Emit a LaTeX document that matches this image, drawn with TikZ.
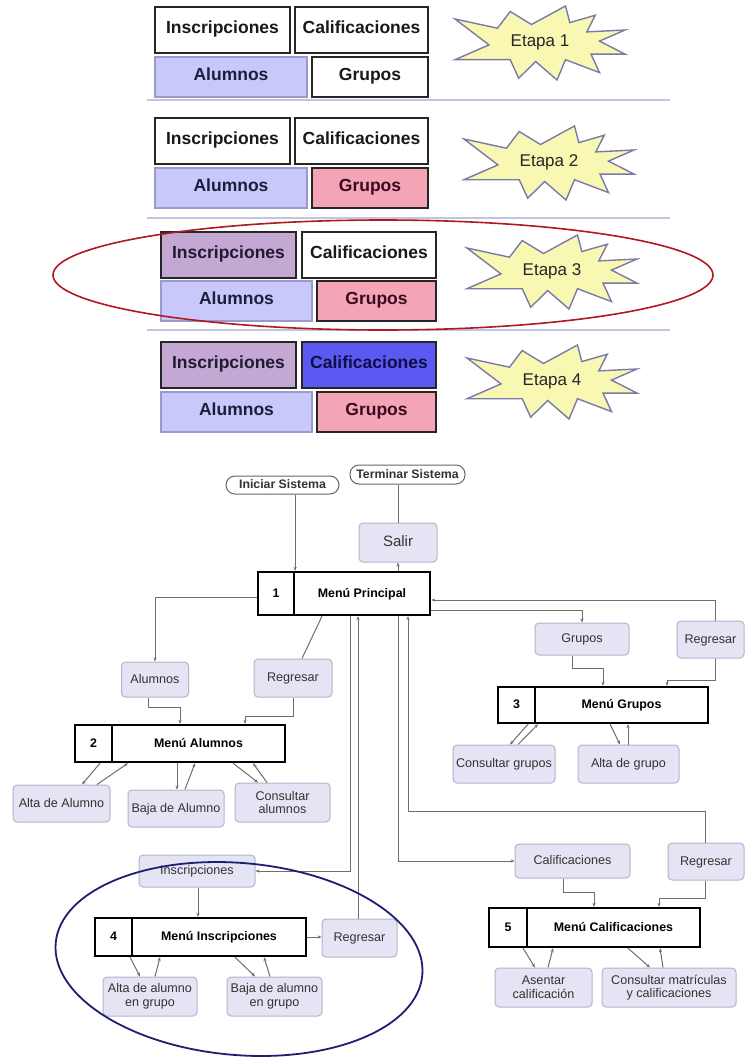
\documentclass[tikz,border=0pt]{standalone}
\usepackage{fontspec}
\setmainfont{Liberation Sans}
\usetikzlibrary{arrows.meta}
\definecolor{lav}{HTML}{C8C8FA}
\definecolor{lavborder}{HTML}{9A9ACC}
\definecolor{pinkf}{HTML}{F5A4B6}
\definecolor{purf}{HTML}{C2A8D2}
\definecolor{bluef}{HTML}{5A5AF2}
\definecolor{boxf}{HTML}{E4E4F4}
\definecolor{boxd}{HTML}{B4B4CC}
\definecolor{sepc}{HTML}{C4C4DE}
\definecolor{starf}{HTML}{F8F8B2}
\definecolor{stard}{HTML}{7A7AAA}
\definecolor{lnc}{HTML}{6E6E6E}
\definecolor{redel}{HTML}{B01822}
\definecolor{blueel}{HTML}{1E1E72}
\newcommand\etstar[1]{\draw[starsty,shift={(#1)}] (-85,-24) -- (-42.5,-14.8) -- (-29.8,-31.5) -- (-8.5,-18.5) -- (25.5,-37) -- (29.8,-20.4) -- (55.3,-27.8) -- (46.8,-11.1) -- (85,-13) -- (59.5,-1.9) -- (85,11.1) -- (51,11.1) -- (59.5,29.6) -- (25.5,16.7) -- (17,37) -- (-4.3,18.5) -- (-21.3,35.2) -- (-29.8,16.7) -- (-85,16.7) -- (-51,1.9) -- cycle;}
\begin{document}
\begin{tikzpicture}[x=1pt,y=-1pt,
  tbw/.style={draw=black!85, line width=2pt, fill=white, inner sep=0pt, text=black!90, text height=0.72em, text depth=0pt, font=\fontsize{17.5}{20}\selectfont\bfseries},
  alu/.style={tbw, draw=lavborder, line width=1.2pt, fill=lav, text={rgb,255:red,30;green,30;blue,60}},
  pnk/.style={tbw, fill=pinkf, text={rgb,255:red,60;green,10;blue,30}},
  pur/.style={tbw, fill=purf, text={rgb,255:red,35;green,25;blue,50}},
  blu/.style={tbw, fill=bluef, text={rgb,255:red,15;green,15;blue,70}},
  sep/.style={draw=sepc, line width=1.3pt},
  starsty/.style={fill=starf, draw=stard, line width=1.4pt, line join=miter},
  startext/.style={inner sep=0pt, text height=0.72em, text depth=0pt, font=\fontsize{17}{19}\selectfont, text=black!85},
  lbox/.style={draw=boxd, fill=boxf, rounded corners=4pt, line width=1pt, inner sep=0pt, align=center, text=black!80, font=\fontsize{12.6}{13.6}\selectfont},
  one/.style={text height=0.72em, text depth=0pt},
  mbox/.style={draw=black, line width=2.4pt, fill=white, inner sep=0pt, text height=0.72em, text depth=0pt, font=\fontsize{12.4}{14}\selectfont\bfseries},
  pill/.style={draw=black!60, line width=1pt, rounded corners=9pt, fill=white, inner sep=0pt, text=black!80, text height=0.72em, text depth=0pt, font=\fontsize{12.3}{14}\selectfont\bfseries},
  con/.style={draw=lnc, line width=1pt},
  arr/.style={con, -{Stealth[length=4pt,width=3.2pt]}}]
\fill[white] (0,0) rectangle (744,1057);
\useasboundingbox (0,0) rectangle (744,1057);
% ---------- stages ----------
\node[tbw, minimum width=135, minimum height=46] (s1i) at (222.5,30) {Inscripciones};
\node[tbw, minimum width=133, minimum height=46] (s1c) at (361.5,30) {Calificaciones};
\node[alu, minimum width=152, minimum height=40] (s1a) at (231,77) {Alumnos};
\node[tbw, minimum width=116, minimum height=40] (s1g) at (370,77) {Grupos};
\node[tbw, minimum width=135, minimum height=46] (s2i) at (222.5,141) {Inscripciones};
\node[tbw, minimum width=133, minimum height=46] (s2c) at (361.5,141) {Calificaciones};
\node[alu, minimum width=152, minimum height=40] (s2a) at (231,188) {Alumnos};
\node[pnk, minimum width=116, minimum height=40] (s2g) at (370,188) {Grupos};
\node[pur, minimum width=135, minimum height=46] (s3i) at (228.5,254.5) {Inscripciones};
\node[tbw, minimum width=134, minimum height=46] (s3c) at (369,254.5) {Calificaciones};
\node[alu, minimum width=151, minimum height=40] (s3a) at (236.5,301) {Alumnos};
\node[pnk, minimum width=119, minimum height=40] (s3g) at (376.5,301) {Grupos};
\node[pur, minimum width=135, minimum height=46] (s4i) at (228.5,364.5) {Inscripciones};
\node[blu, minimum width=134, minimum height=46] (s4c) at (369,364.5) {Calificaciones};
\node[alu, minimum width=151, minimum height=40] (s4a) at (236.5,412) {Alumnos};
\node[pnk, minimum width=119, minimum height=40] (s4g) at (376.5,412) {Grupos};
\draw[sep] (147,100) -- (670,100);
\draw[sep] (147,218) -- (670,218);
\draw[sep] (147,330) -- (670,330);
\etstar{540,43}
\node[startext] (e1) at (540,43) {Etapa 1};
\etstar{549,163}
\node[startext] (e2) at (549,163) {Etapa 2};
\etstar{552,272}
\node[startext] (e3) at (552,272) {Etapa 3};
\etstar{552,382}
\node[startext] (e4) at (552,382) {Etapa 4};
% ---------- flow ----------
\node[pill, minimum width=113, minimum height=18] (ini) at (282.5,485) {Iniciar Sistema};
\node[pill, minimum width=115, minimum height=19] (ter) at (407.5,474.5) {Terminar Sistema};
\node[lbox, one, minimum width=78, minimum height=39, font=\fontsize{15}{17}\selectfont] (salir) at (398,542.5) {Salir};
\node[mbox, minimum width=36, minimum height=43] (m1n) at (276,593.5) {1};
\node[mbox, minimum width=136, minimum height=43] (m1) at (362,593.5) {Menú Principal};
\node[lbox, one, minimum width=67, minimum height=35] (alu) at (155,679.5) {Alumnos};
\node[lbox, one, minimum width=78, minimum height=38] (reg1) at (293,678) {Regresar};
\node[mbox, minimum width=37, minimum height=37] (m2n) at (93.5,743.5) {2};
\node[mbox, minimum width=173, minimum height=37] (m2) at (198.5,743.5) {Menú Alumnos};
\node[lbox, one, minimum width=97, minimum height=37] (alta1) at (61.5,803.5) {Alta de Alumno};
\node[lbox, one, minimum width=96, minimum height=37] (baja1) at (176,808.5) {Baja de Alumno};
\node[lbox, minimum width=95, minimum height=39] (cons1) at (282.5,802.5) {Consultar\\alumnos};
\node[lbox, one, minimum width=94, minimum height=32] (grp) at (582,639) {Grupos};
\node[lbox, one, minimum width=67, minimum height=37] (reg2) at (710.5,639.5) {Regresar};
\node[mbox, minimum width=37, minimum height=36] (m3n) at (516.5,705) {3};
\node[mbox, minimum width=173, minimum height=36] (m3) at (621.5,705) {Menú Grupos};
\node[lbox, one, minimum width=102, minimum height=38] (consg) at (504,764) {Consultar grupos};
\node[lbox, one, minimum width=101, minimum height=38] (altag) at (628.5,764) {Alta de grupo};
\node[lbox, one, minimum width=116, minimum height=32] (ins) at (197,871) {Inscripciones};
\node[mbox, minimum width=37, minimum height=38] (m4n) at (113.5,937) {4};
\node[mbox, minimum width=174, minimum height=38] (m4) at (219,937) {Menú Inscripciones};
\node[lbox, one, minimum width=75, minimum height=38] (reg3) at (359.5,938) {Regresar};
\node[lbox, minimum width=94, minimum height=39] (altai) at (150,996.5) {Alta de alumno\\en grupo};
\node[lbox, minimum width=95, minimum height=39] (bajai) at (274.5,996.5) {Baja de alumno\\en grupo};
\node[lbox, one, minimum width=115, minimum height=34] (cal) at (572.5,861) {Calificaciones};
\node[lbox, one, minimum width=76, minimum height=37] (reg4) at (706,861.5) {Regresar};
\node[mbox, minimum width=38, minimum height=39] (m5n) at (508,927.5) {5};
\node[mbox, minimum width=173, minimum height=39] (m5) at (613.5,927.5) {Menú Calificaciones};
\node[lbox, minimum width=97, minimum height=39] (asen) at (543.5,987.5) {Asentar\\calificación};
\node[lbox, minimum width=134, minimum height=39] (consm) at (669,987.5) {Consultar matrículas\\y calificaciones};
% connectors
\draw[arr] (ini.south -| m1n.east) -- (m1n.east |- m1.north);
\draw[con] (ter.south -| salir.north) -- (salir.north);
\draw[arr] (m1.north -| salir.south) -- (salir.south);
\draw[arr] ([yshift=-3.5pt]m1n.west) -| (alu.north);
\draw[con] ([xshift=9pt]reg1.north) -- ([xshift=-40pt]m1.south);
\draw[arr] ([xshift=-7pt]alu.south) -- ++(0,10) -| ([xshift=-18.5pt]m2.north);
\draw[arr] (reg1.south) -- ++(0,19) -| ([xshift=46.5pt]m2.north);
\draw[arr] ([xshift=6.5pt]m2n.south) -- ([xshift=20.5pt]alta1.north);
\draw[arr] ([xshift=35.5pt]alta1.north) -- ([xshift=-70.5pt]m2.south);
\draw[arr] ([xshift=-21.5pt]m2.south) -- ([xshift=1pt]baja1.north);
\draw[arr] ([xshift=9pt]baja1.north) -- ([xshift=-3.5pt]m2.south);
\draw[arr] ([xshift=34.5pt]m2.south) -- ([xshift=-24.5pt]cons1.north);
\draw[arr] ([xshift=-15.5pt]cons1.north) -- ([xshift=54.5pt]m2.south);
\draw[arr] ([xshift=4.5pt]reg2.north) |- ([yshift=-6.5pt]m1.east);
\draw[arr] ([yshift=-16.5pt]m1.east) -| (grp.north);
\draw[arr] ([xshift=-10pt]grp.south) -- ++(0,13) -| ([xshift=-18.5pt]m3.north);
\draw[arr] ([xshift=4.5pt]reg2.south) -- ++(0,22) -| ([xshift=45.5pt]m3.north);
\draw[arr] ([xshift=11.5pt]m3n.south) -- ([xshift=6pt]consg.north);
\draw[arr] ([xshift=14pt]consg.north) -- ([xshift=-83.5pt]m3.south);
\draw[arr] ([xshift=-11.5pt]m3.south) -- ([xshift=-8.5pt]altag.north);
\draw[arr] ([xshift=-0.5pt]altag.north) -- ([xshift=6.5pt]m3.south);
\draw[arr] ([xshift=-12pt]m1.south) |- (ins.east);
\draw[arr] ([xshift=-1.5pt]reg3.north) -- ([xshift=-4pt]m1.south);
\draw[arr] ([xshift=36pt]m1.south) |- (cal.west);
\draw[arr] ([xshift=-1pt]reg4.north) -- ++(0,-31) -| ([xshift=46pt]m1.south);
\draw[arr] ([xshift=1pt]ins.south) -- ([xshift=-21pt]m4.north);
\draw[arr] (m4.east) -- (reg3.west |- m4.east);
\draw[arr] ([xshift=16.5pt]m4n.south) -- ([xshift=-10pt]altai.north);
\draw[arr] ([xshift=5pt]altai.north) -- ([xshift=-59pt]m4.south);
\draw[arr] ([xshift=16pt]m4.south) -- ([xshift=-19.5pt]bajai.north);
\draw[arr] ([xshift=-4.5pt]bajai.north) -- ([xshift=45pt]m4.south);
\draw[arr] ([xshift=-9.5pt]cal.south) -- ++(0,14) -| ([xshift=-19.5pt]m5.north);
\draw[arr] ([xshift=-1pt]reg4.south) -- ++(0,18) -| ([xshift=45.5pt]m5.north);
\draw[arr] ([xshift=15pt]m5n.south) -- ([xshift=-8.5pt]asen.north);
\draw[arr] ([xshift=4.5pt]asen.north) -- ([xshift=-60.5pt]m5.south);
\draw[arr] ([xshift=14.5pt]m5.south) -- ([xshift=-19pt]consm.north);
\draw[arr] ([xshift=-6pt]consm.north) -- ([xshift=46.5pt]m5.south);
% ellipses
\draw[redel, line width=1.6pt] (383,275) ellipse [x radius=330, y radius=55];
\draw[blueel, line width=1.8pt, rotate around={-5:(239,959)}] (239,959) ellipse [x radius=184, y radius=96];
\end{tikzpicture}
\end{document}
